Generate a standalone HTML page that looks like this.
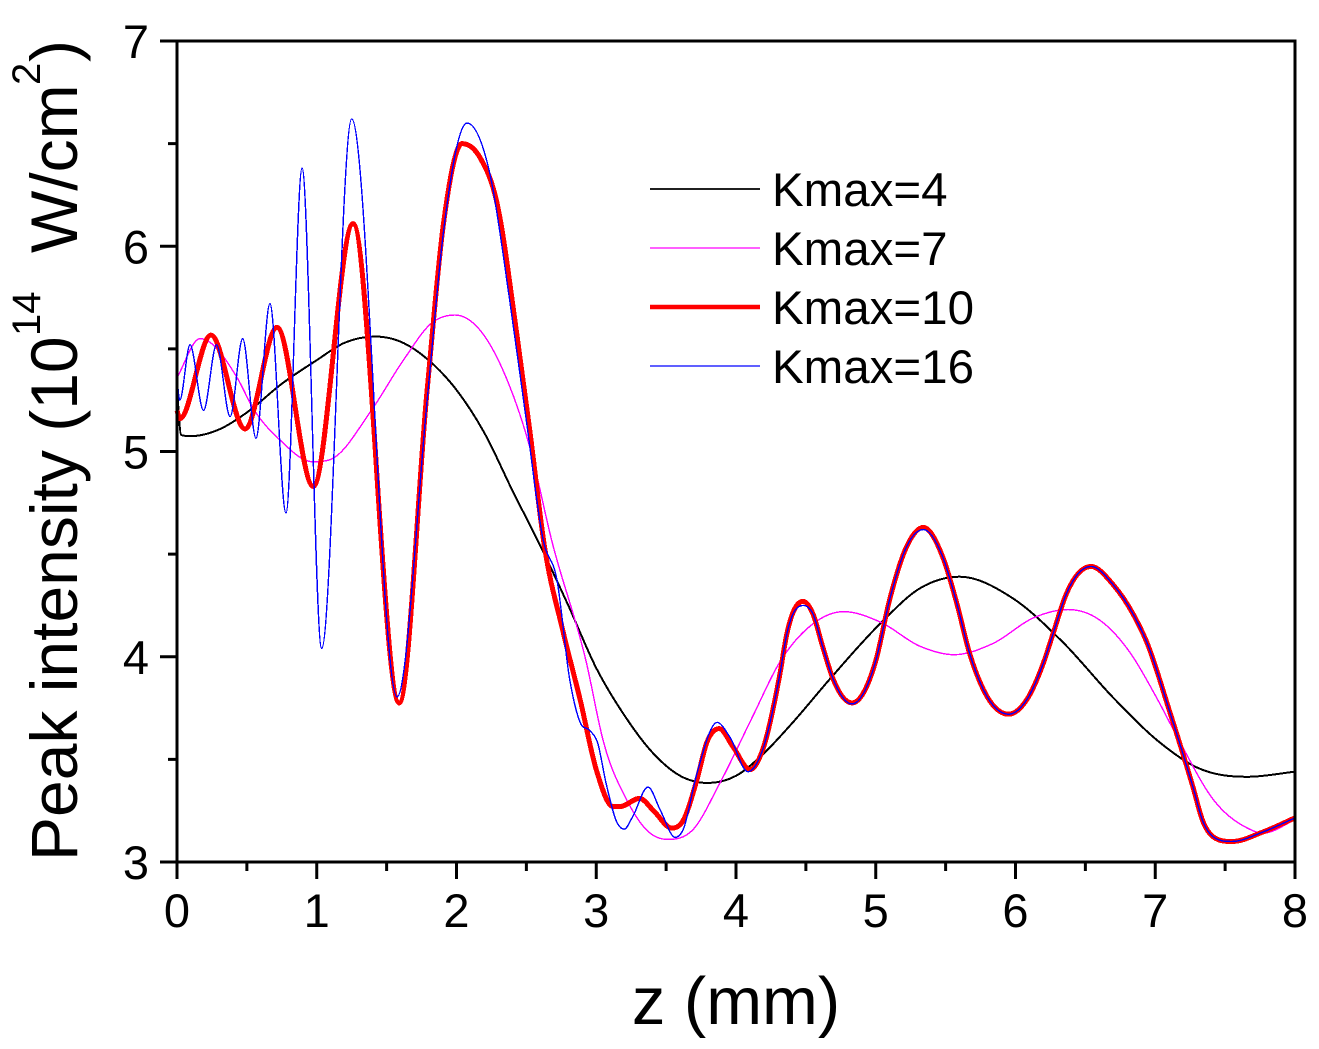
<!DOCTYPE html>
<html lang="en">
<head>
<meta charset="utf-8">
<title>Peak intensity vs z</title>
<style>
html,body{margin:0;padding:0;background:#fff;}
svg{display:block;font-family:"Liberation Sans",Arial,sans-serif;}
</style>
</head>
<body>
<svg id="chart" xmlns="http://www.w3.org/2000/svg" width="1319" height="1049" viewBox="0 0 1319 1049">
  <g id="ticks"></g>
  <g id="series" shape-rendering="crispEdges"></g>
  <rect x="177" y="41" width="1118" height="821" fill="none" stroke="#000" stroke-width="3"></rect>
  <g id="labels" font-size="47" fill="#000"></g>
  <text x="736" y="1024" font-size="67" text-anchor="middle">z (mm)</text>
  <g fill="#000">
    <text transform="translate(77,861) rotate(-90)" font-size="66">Peak intensity (10</text>
    <text transform="translate(40,336) rotate(-90)" font-size="40">14</text>
    <text transform="translate(77,253) rotate(-90)" font-size="66">W/cm</text>
    <text transform="translate(40,85) rotate(-90)" font-size="40">2</text>
    <text transform="translate(77,62) rotate(-90)" font-size="66">)</text>
  </g>
  <g id="legend"></g>
</svg>
<script>
const xTickLabels = [0, 1, 2, 3, 4, 5, 6, 7, 8];
const yTickLabels = [3, 4, 5, 6, 7];
const xMinorTicks = [0.5, 1.5, 2.5, 3.5, 4.5, 5.5, 6.5, 7.5];
const yMinorTicks = [3.5, 4.5, 5.5, 6.5];

const seriesNames = ["Kmax=4", "Kmax=7", "Kmax=10", "Kmax=16"];

const zK4 = [0, 0.03, 0.1, 0.31, 0.5, 0.75, 1.0, 1.2, 1.42, 1.6, 1.8, 2.0, 2.2, 2.4, 2.6, 2.8, 3.0, 3.2, 3.4, 3.6, 3.8, 4.0, 4.2, 4.4, 4.67, 5.03, 5.32, 5.6, 5.98, 6.34, 6.7, 7.01, 7.3, 7.66, 8];
const iK4 = [5.3, 5.08, 5.075, 5.11, 5.19, 5.33, 5.445, 5.53, 5.56, 5.535, 5.445, 5.30, 5.09, 4.81, 4.54, 4.25, 3.945, 3.716, 3.535, 3.42, 3.385, 3.42, 3.53, 3.675, 3.89, 4.16, 4.335, 4.39, 4.285, 4.07, 3.80, 3.595, 3.46, 3.415, 3.44];

const zK7 = [0, 0.165, 0.43, 0.545, 0.737, 0.97, 1.095, 1.40, 1.62, 1.83, 1.99, 2.17, 2.33, 2.525, 2.68, 2.93, 3.05, 3.22, 3.36, 3.51, 3.69, 3.885, 4.12, 4.31, 4.55, 4.77, 5.03, 5.32, 5.56, 5.84, 6.13, 6.375, 6.6, 6.82, 7.01, 7.18, 7.42, 7.66, 7.77, 8];
const iK7 = [5.36, 5.55, 5.36, 5.21, 5.056, 4.95, 4.96, 5.21, 5.445, 5.63, 5.665, 5.59, 5.40, 5.02, 4.57, 3.97, 3.59, 3.30, 3.156, 3.11, 3.156, 3.385, 3.71, 3.97, 4.16, 4.22, 4.17, 4.05, 4.01, 4.065, 4.19, 4.23, 4.18, 4.02, 3.80, 3.58, 3.30, 3.165, 3.14, 3.205];

const zK10 = [0, 0.02, 0.243, 0.487, 0.716, 0.975, 1.26, 1.59, 1.79, 1.905, 2.04, 2.17, 2.29, 2.43, 2.525, 2.63, 2.76, 2.885, 3.0, 3.12, 3.17, 3.31, 3.41, 3.54, 3.62, 3.72, 3.79, 3.88, 3.98, 4.1, 4.19, 4.31, 4.365, 4.48, 4.55, 4.62, 4.69, 4.83, 5.0, 5.1, 5.22, 5.34, 5.48, 5.58, 5.67, 5.77, 5.95, 6.08, 6.2, 6.27, 6.36, 6.54, 6.7, 6.84, 6.94, 7.1, 7.27, 7.34, 7.42, 7.55, 7.77, 8];
const iK10 = [5.2, 5.16, 5.567, 5.11, 5.605, 4.83, 6.11, 3.775, 5.3, 6.1, 6.50, 6.43, 6.21, 5.58, 5.10, 4.535, 4.13, 3.79, 3.45, 3.27, 3.27, 3.31, 3.25, 3.165, 3.2, 3.4, 3.58, 3.65, 3.56, 3.45, 3.545, 3.9, 4.115, 4.27, 4.21, 4.05, 3.9, 3.775, 3.98, 4.28, 4.535, 4.63, 4.485, 4.26, 4.02, 3.84, 3.72, 3.79, 3.97, 4.115, 4.3, 4.44, 4.35, 4.21, 4.07, 3.74, 3.365, 3.2, 3.12, 3.1, 3.146, 3.215];

const zK16 = [0, 0.02, 0.093, 0.19, 0.283, 0.38, 0.47, 0.565, 0.665, 0.78, 0.895, 1.035, 1.25, 1.575, 1.79, 1.905, 2.075, 2.24, 2.38, 2.5, 2.62, 2.72, 2.81, 2.885, 2.955, 3.01, 3.07, 3.15, 3.2, 3.26, 3.37, 3.46, 3.565, 3.62, 3.72, 3.865, 3.955, 4.085, 4.19, 4.31, 4.365, 4.48, 4.55, 4.62, 4.69, 4.83, 5.0, 5.1, 5.22, 5.34, 5.48, 5.58, 5.67, 5.77, 5.95, 6.08, 6.2, 6.27, 6.36, 6.54, 6.7, 6.84, 6.94, 7.1, 7.27, 7.34, 7.42, 7.55, 7.77, 8];
const iK16 = [5.35, 5.25, 5.52, 5.2, 5.52, 5.17, 5.55, 5.065, 5.72, 4.70, 6.38, 4.04, 6.62, 3.805, 5.25, 6.06, 6.60, 6.35, 5.74, 5.15, 4.57, 4.37, 3.89, 3.68, 3.64, 3.58, 3.385, 3.19, 3.16, 3.22, 3.365, 3.25, 3.12, 3.155, 3.43, 3.68, 3.61, 3.44, 3.545, 3.9, 4.115, 4.25, 4.21, 4.05, 3.9, 3.77, 3.98, 4.28, 4.535, 4.62, 4.485, 4.26, 4.02, 3.84, 3.72, 3.79, 3.97, 4.115, 4.3, 4.44, 4.35, 4.21, 4.07, 3.74, 3.365, 3.2, 3.12, 3.1, 3.146, 3.215];

const NS = "http://www.w3.org/2000/svg";
function xScale(z) { return 177 + (z - 0) * (1295 - 177) / 8; }
function yScale(v) { return 862 - (v - 3) * (862 - 41) / 4; }

function make(tag, attrs, parent) {
  const el = document.createElementNS(NS, tag);
  for (const k in attrs) el.setAttribute(k, attrs[k]);
  parent.appendChild(el);
  return el;
}

/* monotone-preserving cubic path through the data points */
function curvePath(zs, vs) {
  const n = zs.length, px = zs.map(xScale), py = vs.map(yScale);
  const s = [], m = [];
  for (let i = 0; i < n - 1; i++) s.push((py[i + 1] - py[i]) / (px[i + 1] - px[i]));
  m[0] = s[0];
  m[n - 1] = s[n - 2];
  for (let i = 1; i < n - 1; i++) {
    if (s[i - 1] * s[i] <= 0) { m[i] = 0; continue; }
    const h0 = px[i] - px[i - 1], h1 = px[i + 1] - px[i];
    const p = (s[i - 1] * h1 + s[i] * h0) / (h0 + h1);
    m[i] = Math.sign(s[i]) * Math.min(3 * Math.abs(s[i - 1]), 3 * Math.abs(s[i]), Math.abs(p));
  }
  let d = "M" + px[0].toFixed(2) + " " + py[0].toFixed(2);
  for (let i = 0; i < n - 1; i++) {
    const h = (px[i + 1] - px[i]) / 3;
    d += "C" + (px[i] + h).toFixed(2) + " " + (py[i] + m[i] * h).toFixed(2) + " " +
      (px[i + 1] - h).toFixed(2) + " " + (py[i + 1] - m[i + 1] * h).toFixed(2) + " " +
      px[i + 1].toFixed(2) + " " + py[i + 1].toFixed(2);
  }
  return d;
}

const tickGroup = document.getElementById("ticks");
const labelGroup = document.getElementById("labels");
const seriesGroup = document.getElementById("series");
const legendGroup = document.getElementById("legend");

xTickLabels.forEach(function (t) {
  const tick = make("line", { x1: xScale(t), x2: xScale(t), y1: 862, y2: 879, stroke: "#000", "stroke-width": 3 }, tickGroup);
  
  
  const lab = make("text", { x: xScale(t), y: 927, "text-anchor": "middle" }, labelGroup);
  lab.textContent = t;
  
  
});
xMinorTicks.forEach(function (t) {
  const tick = make("line", { x1: xScale(t), x2: xScale(t), y1: 862, y2: 871, stroke: "#000", "stroke-width": 3 }, tickGroup);
  
  
});
yTickLabels.forEach(function (t) {
  const tick = make("line", { x1: 160, x2: 177, y1: yScale(t), y2: yScale(t), stroke: "#000", "stroke-width": 3 }, tickGroup);
  
  
  const lab = make("text", { x: 149, y: yScale(t) + 17, "text-anchor": "end" }, labelGroup);
  lab.textContent = t;
  
  
});
yMinorTicks.forEach(function (t) {
  const tick = make("line", { x1: 168, x2: 177, y1: yScale(t), y2: yScale(t), stroke: "#000", "stroke-width": 3 }, tickGroup);
  
  
});

const lineK4 = make("path", { d: curvePath(zK4, iK4), fill: "none", stroke: "#000000", "stroke-width": 2 }, seriesGroup);


const lineK7 = make("path", { d: curvePath(zK7, iK7), fill: "none", stroke: "#ff00ff", "stroke-width": 1.4 }, seriesGroup);


const lineK10 = make("path", { d: curvePath(zK10, iK10), fill: "none", stroke: "#ff0000", "stroke-width": 5 }, seriesGroup);


const lineK16 = make("path", { d: curvePath(zK16, iK16), fill: "none", stroke: "#0000ff", "stroke-width": 1.4 }, seriesGroup);



const legendColors = ["#000000", "#ff00ff", "#ff0000", "#0000ff"];
const legendWidths = [1.8, 1.3, 4.6, 1.2];
seriesNames.forEach(function (name, i) {
  const ly = 189 + i * 59;
  const sample = make("line", { x1: 650, x2: 760, y1: ly, y2: ly, stroke: legendColors[i], "stroke-width": legendWidths[i] }, legendGroup);
  
  
  const txt = make("text", { x: 772, y: ly + 17, "font-size": 47.5, fill: "#000" }, legendGroup);
  txt.textContent = name;
  
  
});
</script>
</body>
</html>
